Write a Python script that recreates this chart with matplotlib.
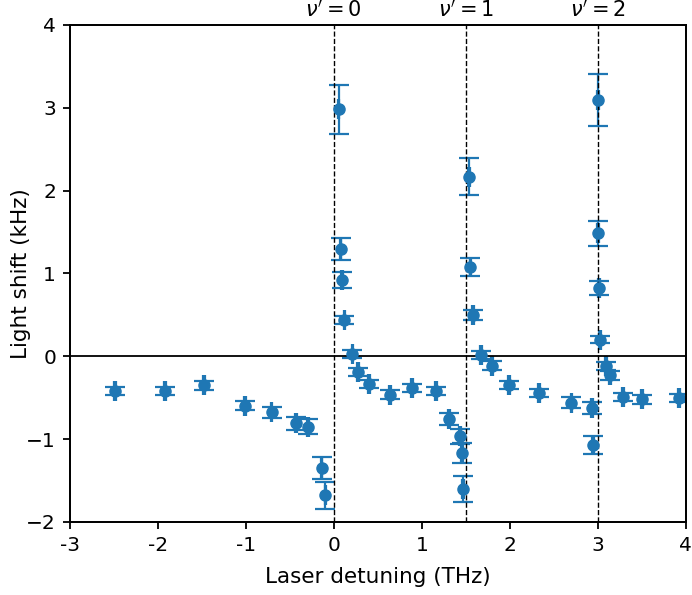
import matplotlib
matplotlib.use('Agg')
import matplotlib.pyplot as plt
import numpy as np

plt.rcParams.update({
    'font.size': 14.5,
    'axes.labelsize': 15.5,
    'axes.linewidth': 1.3,
    'xtick.major.width': 1.3,
    'ytick.major.width': 1.3,
    'xtick.major.size': 5,
    'ytick.major.size': 5,
    'xtick.major.pad': 5,
    'ytick.major.pad': 5,
})

# detuning (THz), light shift (kHz), error (kHz)
detuning = np.array([-2.49, -1.92, -1.477, -1.007, -0.708, -0.432, -0.292, -0.14, -0.095,
                     0.053, 0.076, 0.091, 0.121, 0.212, 0.276, 0.40, 0.64, 0.886, 1.159,
                     1.307, 1.432, 1.455, 1.47, 1.538, 1.553, 1.583, 1.674, 1.799, 1.99,
                     2.33, 2.70, 2.935, 2.943, 3.0, 3.003, 3.011, 3.023, 3.09, 3.136,
                     3.29, 3.50, 3.92])
shift = np.array([-0.42, -0.42, -0.35, -0.595, -0.676, -0.81, -0.85, -1.35, -1.68,
                  2.98, 1.30, 0.918, 0.44, 0.03, -0.19, -0.333, -0.462, -0.386, -0.42,
                  -0.756, -0.966, -1.167, -1.60, 2.17, 1.075, 0.50, 0.02, -0.112, -0.35,
                  -0.44, -0.56, -0.62, -1.066, 3.10, 1.485, 0.826, 0.20, -0.12, -0.23,
                  -0.49, -0.52, -0.50])
shift_err = np.array([0.052, 0.052, 0.052, 0.058, 0.064, 0.08, 0.089, 0.13, 0.165,
                      0.30, 0.133, 0.099, 0.05, 0.05, 0.05, 0.05, 0.05, 0.05, 0.05,
                      0.077, 0.093, 0.115, 0.16, 0.22, 0.11, 0.056, 0.05, 0.05, 0.05,
                      0.05, 0.064, 0.072, 0.109, 0.314, 0.149, 0.089, 0.045, 0.05, 0.05,
                      0.05, 0.05, 0.05])
detuning_err = 0.01

# vibrational levels of the excited state
levels = [0, 1.5, 3]
level_labels = [r"$\nu' = 0$", r"$\nu' = 1$", r"$\nu' = 2$"]

xticks = [-3, -2, -1, 0, 1, 2, 3, 4]

fig = plt.figure(figsize=(6.92, 5.95), dpi=100)
ax = fig.add_axes([0.101, 0.1227, 0.890, 0.8353])

ax.errorbar(detuning, shift, yerr=shift_err, xerr=detuning_err, fmt='o',
            color='#1f77b4', markersize=8, elinewidth=1.6, capsize=7.2,
            capthick=1.6)

ax.axhline(0, color='black', linewidth=1.3)
for lv in levels:
    ax.axvline(lv, color='black', linestyle='--', linewidth=1.0)

ax.set_xlim(-3, 4)
ax.set_ylim(-2, 4)
ax.set_xticks(xticks)
ax.set_xticklabels([str(t) for t in xticks])
ax.set_yticks([-2, -1, 0, 1, 2, 3, 4])
ax.set_xlabel('Laser detuning (THz)', labelpad=9)
ax.set_ylabel('Light shift (kHz)')
ax.yaxis.set_label_coords(-0.063, 0.5)

top = ax.twiny()
top.set_xlim(ax.get_xlim())
top.set_xticks(levels)
top.set_xticklabels(level_labels, fontsize=15)
top.tick_params(axis='x', length=0, pad=3)

plt.savefig('out.png', dpi=100)
